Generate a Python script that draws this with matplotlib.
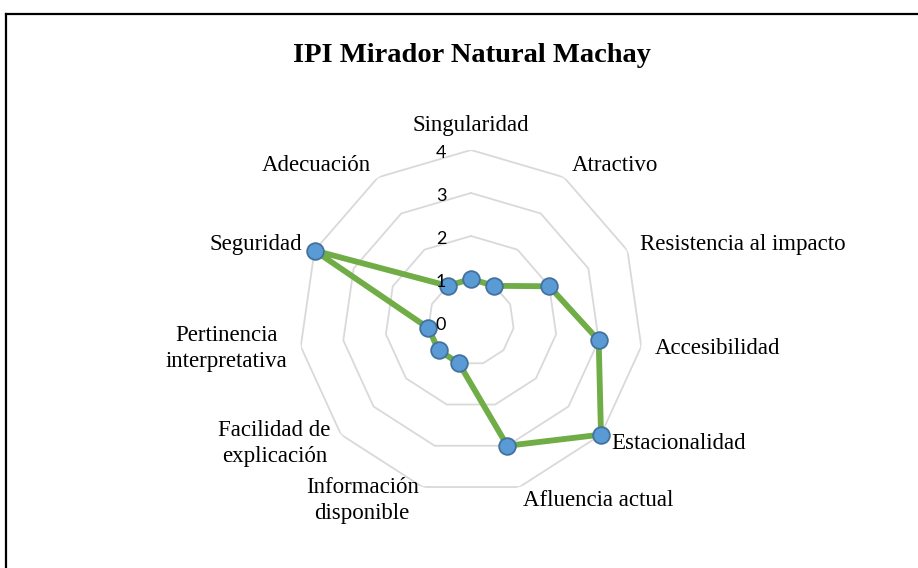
import numpy as np
import matplotlib
matplotlib.use('Agg')
import matplotlib.pyplot as plt
from matplotlib.lines import Line2D

# chart data
categories = ['Singularidad', 'Atractivo', 'Resistencia al impacto',
              'Accesibilidad', 'Estacionalidad', 'Afluencia actual',
              'Información\ndisponible', 'Facilidad de\nexplicación',
              'Pertinencia\ninterpretativa', 'Seguridad', 'Adecuación']
values = [1, 1, 2, 3, 4, 3, 1, 1, 1, 4, 1]
ticks = [0, 1, 2, 3, 4]
title = 'IPI Mirador Natural Machay'

W, H = 918, 568
fig = plt.figure(figsize=(W / 100, H / 100), dpi=100)
fig.patch.set_facecolor('white')

# border on top and left, as in the cropped original
fig.add_artist(Line2D([6 / W, 1], [1 - 14 / H, 1 - 14 / H], color='black', lw=1.6))
fig.add_artist(Line2D([6 / W, 6 / W], [0, 1 - 14 / H], color='black', lw=1.6))

fig.text(472 / W, 1 - 55 / H, title, ha='center', va='center',
         family='Liberation Serif', fontweight='bold', fontsize=20.5)

# polar axes: centre (471, 322) px, outer ring radius 172 px
cx, cy, rad = 471, 322, 172
ax = fig.add_axes([(cx - rad) / W, 1 - (cy + rad) / H, 2 * rad / W, 2 * rad / H],
                  projection='polar')
ax.set_theta_zero_location('N')
ax.set_theta_direction(-1)
ax.set_ylim(0, ticks[-1])
ax.grid(False)
ax.set_xticks([])
ax.set_yticks([])
ax.spines['polar'].set_visible(False)
ax.patch.set_visible(False)

n = len(categories)
theta = np.arange(n) * 2 * np.pi / n
theta_c = np.append(theta, theta[0])

# polygon grid rings
for t in ticks[1:]:
    ax.plot(theta_c, [t] * (n + 1), color='#D9D9D9', lw=1.3, zorder=1)

# data series
vals_c = values + values[:1]
ax.plot(theta_c, vals_c, color='#70AD47', lw=4.2, zorder=3,
        solid_joinstyle='round', clip_on=False)
ax.plot(theta, values, 'o', ms=12, mfc='#5B9BD5', mec='#41719C', mew=1.3,
        zorder=4, clip_on=False)

# value tick labels, left of the vertical axis
for t in ticks:
    ax.annotate(str(t), xy=(0, t), xytext=(-30, -3), textcoords='offset pixels',
                ha='center', va='center', family='Lato', fontsize=13,
                zorder=5)

# category labels
for ang, lab in zip(theta, categories):
    s, c = np.sin(ang), np.cos(ang)
    if s > 0.05:
        ha = 'left'
    elif s < -0.05:
        ha = 'right'
    else:
        ha = 'center'
    va = 'bottom' if c > 0.95 else 'center'
    ax.text(ang, 4.32, lab, ha=ha, va=va, multialignment='center',
            family='Liberation Serif', fontsize=16.5, linespacing=1.3,
            zorder=6)

fig.savefig('out.png', dpi=100)
